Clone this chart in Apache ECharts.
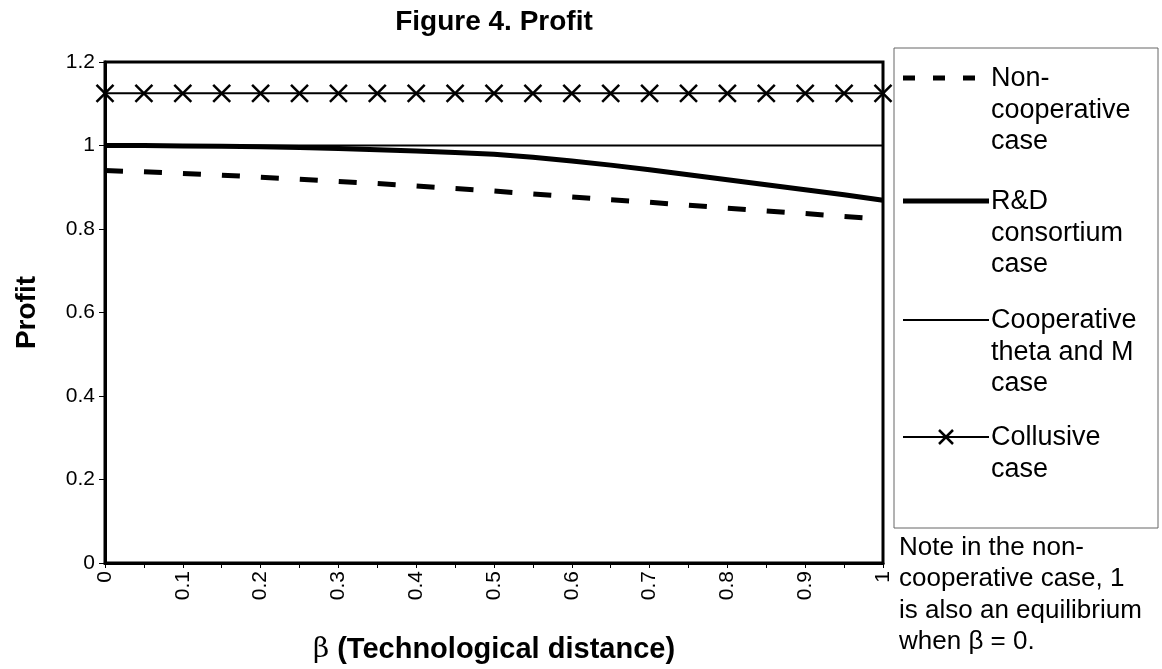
<!DOCTYPE html>
<html>
<head>
<meta charset="utf-8">
<script src="https://cdn.jsdelivr.net/npm/echarts@6/dist/echarts.min.js"></script>
<style>html,body{margin:0;padding:0;background:#fff}#c{width:1162px;height:669px}</style>
</head>
<body>
<div id="c"></div>
<script>
const categories = ['0','0.05','0.1','0.15','0.2','0.25','0.3','0.35','0.4','0.45','0.5','0.55','0.6','0.65','0.7','0.75','0.8','0.85','0.9','0.95','1'];
const nonCooperative = [0.940,0.937,0.933,0.929,0.924,0.919,0.914,0.909,0.903,0.897,0.891,0.884,0.877,0.870,0.864,0.857,0.850,0.843,0.837,0.830,0.824];
const rdConsortium = [1.000,1.000,0.999,0.998,0.997,0.995,0.993,0.990,0.987,0.983,0.979,0.972,0.963,0.953,0.942,0.930,0.918,0.906,0.894,0.882,0.869];
const cooperative = [1,1,1,1,1,1,1,1,1,1,1,1,1,1,1,1,1,1,1,1,1];
const collusive = [1.125,1.125,1.125,1.125,1.125,1.125,1.125,1.125,1.125,1.125,1.125,1.125,1.125,1.125,1.125,1.125,1.125,1.125,1.125,1.125,1.125];
const seriesNames = ['Non-\ncooperative\ncase','R&D\nconsortium\ncase','Cooperative\ntheta and M\ncase','Collusive\ncase'];
const yTicks = {min:0, max:1.2, interval:0.2};
const titleText = 'Figure 4. Profit';
const noteText = 'Note in the non-\ncooperative case, 1\nis also an equilibrium\nwhen β = 0.';

const FONT = 'Liberation Sans';
const chart = echarts.init(document.getElementById('c'), null, {renderer:'canvas'});
const crossPath = 'path://M0,0L10,10M10,0L0,10';

const legX = 903, legEnd = 989, legTxtX = 991;
const legTops = [63, 186, 305, 422];
const legendGraphics = [];
legendGraphics.push({type:'rect', shape:{x:894,y:48,width:264,height:480}, style:{fill:'#fff', stroke:'#666', lineWidth:1}, z:10});
const legStyles = [
  {lineWidth:5, lineDash:[12,18]},
  {lineWidth:5},
  {lineWidth:2},
  {lineWidth:2}
];
seriesNames.forEach((n,i)=>{
  const ly = legTops[i] + 15;
  const x2 = i===0 ? 978 : legEnd;
  legendGraphics.push({type:'line', shape:{x1:legX,y1:ly,x2:x2,y2:ly}, style:Object.assign({stroke:'#000'}, legStyles[i]), z:11});
  if(i===3){
    const cx = (legX+legEnd)/2;
    legendGraphics.push({type:'line', shape:{x1:cx-7,y1:ly-7,x2:cx+7,y2:ly+7}, style:{stroke:'#000', lineWidth:2.5}, z:11});
    legendGraphics.push({type:'line', shape:{x1:cx+7,y1:ly-7,x2:cx-7,y2:ly+7}, style:{stroke:'#000', lineWidth:2.5}, z:11});
  }
  legendGraphics.push({type:'text', x:legTxtX, y:legTops[i], style:{text:n, fontFamily:FONT, fontSize:27, fill:'#000', lineHeight:31.5}, z:11});
});
legendGraphics.push({type:'text', x:899, y:532, style:{text:noteText, fontFamily:FONT, fontSize:26, fill:'#000', lineHeight:31.5}, z:11});

chart.setOption({
  animation:false,
  backgroundColor:'#fff',
  title:{text:titleText, left:489, top:3, textAlign:'center', textStyle:{fontFamily:FONT, fontSize:28, fontWeight:'bold', color:'#000'}},
  grid:{left:105, right:279, top:62, bottom:103, show:true, borderColor:'#000', borderWidth:3, backgroundColor:'transparent'},
  xAxis:{
    type:'category', data:categories, boundaryGap:false,
    name:'{b|β} (Technological distance)', nameLocation:'middle', nameGap:72,
    nameTextStyle:{fontFamily:FONT, fontSize:29, fontWeight:'bold', color:'#000',
      rich:{b:{fontFamily:'DejaVu Serif', fontSize:28, fontWeight:'normal', color:'#000'}}},
    axisLine:{lineStyle:{color:'#000', width:3}},
    axisTick:{show:true, interval:0, length:5, lineStyle:{color:'#000', width:1}},
    axisLabel:{interval:1, rotate:90, fontFamily:FONT, fontSize:21, color:'#000', margin:8},
    splitLine:{show:false}
  },
  yAxis:{
    type:'value', min:yTicks.min, max:yTicks.max, interval:yTicks.interval,
    name:'Profit', nameLocation:'middle', nameGap:64, nameRotate:90,
    nameTextStyle:{fontFamily:FONT, fontSize:28, fontWeight:'bold', color:'#000'},
    axisLine:{show:true, lineStyle:{color:'#000', width:3}},
    axisTick:{show:true, length:6, lineStyle:{color:'#000', width:1}},
    axisLabel:{fontFamily:FONT, fontSize:21, color:'#000', margin:10},
    splitLine:{show:false}
  },
  series:[
    {name:seriesNames[0], type:'line', data:nonCooperative, showSymbol:false, symbol:'none',
     lineStyle:{color:'#000', width:5, type:[18,21]}, z:3},
    {name:seriesNames[1], type:'line', data:rdConsortium, showSymbol:false, symbol:'none',
     lineStyle:{color:'#000', width:5}, z:4},
    {name:seriesNames[2], type:'line', data:cooperative, showSymbol:false, symbol:'none',
     lineStyle:{color:'#000', width:2}, z:2},
    {name:seriesNames[3], type:'line', data:collusive, symbol:crossPath, symbolSize:17, showSymbol:true, showAllSymbol:true,
     itemStyle:{color:'none', borderColor:'#000', borderWidth:2.5},
     lineStyle:{color:'#000', width:2}, z:5}
  ],
  graphic:legendGraphics
});
</script>
</body>
</html>
